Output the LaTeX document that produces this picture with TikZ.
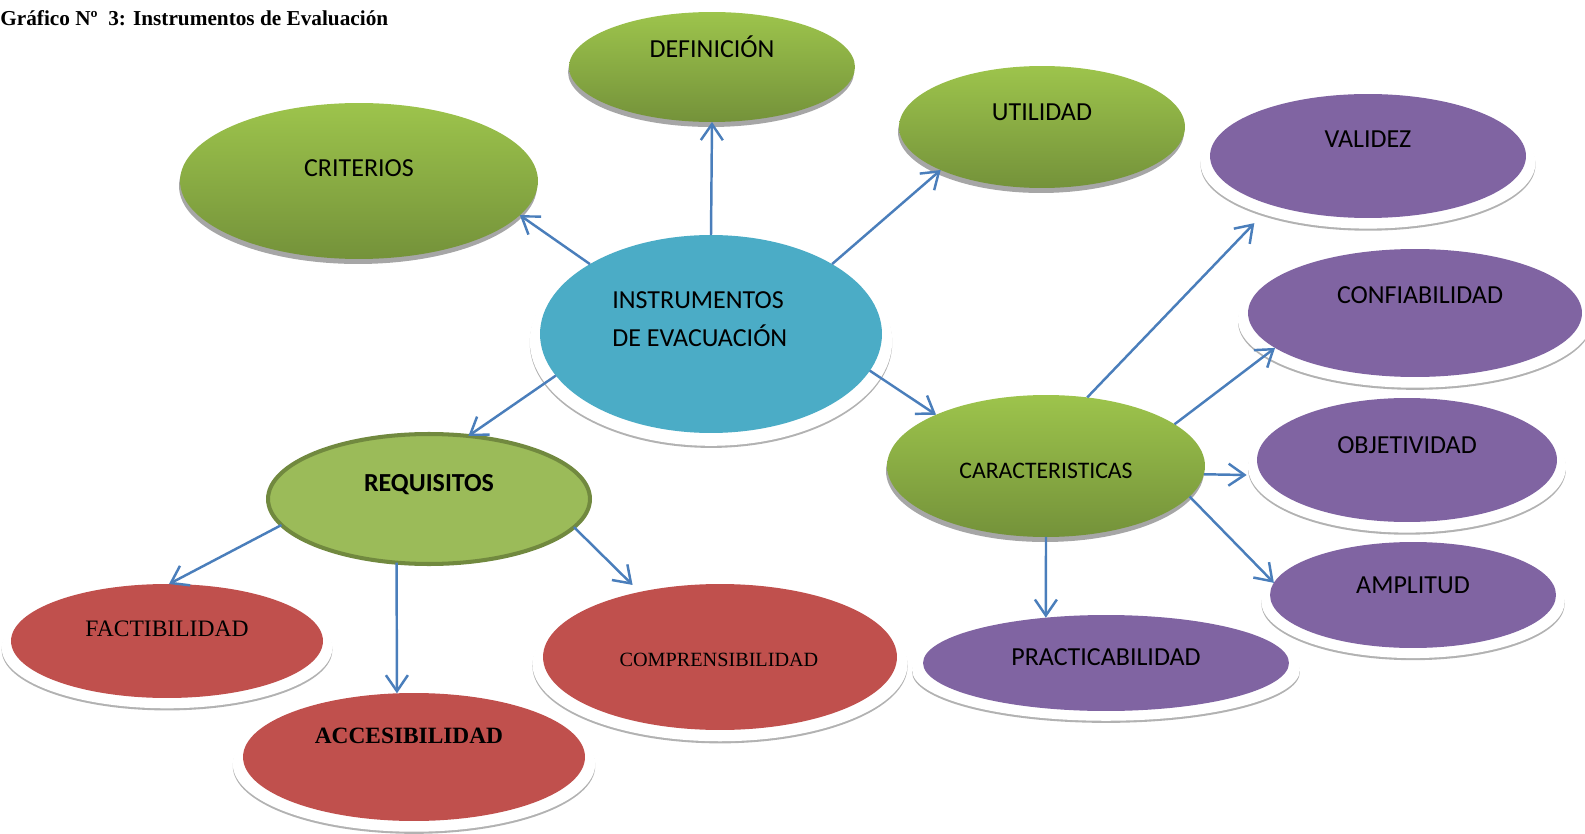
\documentclass[tikz,border=0pt]{standalone}
\usepackage{fontspec}
\setmainfont{Carlito}
\newfontfamily\timesfont{Liberation Serif}
\usetikzlibrary{shapes.geometric,shadows,arrows.meta}

\definecolor{greenTop}{RGB}{157,196,76}
\definecolor{greenBot}{RGB}{116,146,58}
\definecolor{reqFill}{RGB}{155,187,89}
\definecolor{reqLine}{RGB}{113,137,63}
\definecolor{blueAcc}{RGB}{75,172,198}
\definecolor{redAcc}{RGB}{192,80,77}
\definecolor{purpleAcc}{RGB}{128,100,162}
\definecolor{linkBlue}{RGB}{74,126,187}

\begin{document}
\begin{tikzpicture}[x=0.02cm, y=-0.02cm,
   bubble/.style={ellipse, inner sep=0pt, outer sep=0pt},
   greenbub/.style={bubble, top color=greenTop, bottom color=greenBot,
      general shadow={fill=gray!70, shadow xshift=-0.02cm, shadow yshift=-0.1cm}},
   rim/.style={
      general shadow={fill=gray!60, shadow scale=1.06, shadow yshift=-0.17cm},
      general shadow={fill=white, shadow scale=1.06, shadow yshift=-0.13cm}},
   bluebub/.style={bubble, rim, fill=blueAcc},
   redbub/.style={bubble, rim, fill=redAcc},
   purplebub/.style={bubble, rim, fill=purpleAcc},
   reqbub/.style={bubble, fill=reqFill, draw=reqLine, line width=2.3pt},
   lbl/.style={inner sep=0pt, text height=9.5pt, text depth=0pt,
      font=\fontsize{14.8}{17}\selectfont},
   serlbl/.style={inner sep=0pt, text height=8.9pt, text depth=0pt,
      font=\timesfont\fontsize{13.4}{16}\selectfont},
   link/.style={draw=linkBlue, line width=1.4pt,
      -{Straight Barb[length=3.2mm, width=4.4mm]}}]

\useasboundingbox (0,0) rectangle (1585,834);

\node[anchor=west, inner sep=0pt, font=\timesfont\bfseries\fontsize{12.1}{14}\selectfont]
   (title) at (0,18) {Gráfico Nº~~3: Instrumentos de Evaluación};

% bubbles
\node[greenbub, minimum width=5.72cm, minimum height=2.2cm] (def) at (712,67) {};
\node[greenbub, minimum width=7.16cm, minimum height=3.12cm] (crit) at (359,181) {};
\node[greenbub, minimum width=5.72cm, minimum height=2.44cm] (util) at (1042,127) {};
\node[bluebub, minimum width=6.84cm, minimum height=3.96cm] (inst) at (711,334) {};
\node[reqbub, minimum width=6.44cm, minimum height=2.6cm] (req) at (429,499) {};
\node[greenbub, minimum width=6.36cm, minimum height=2.84cm] (car) at (1046,466) {};

\node[redbub, minimum width=6.24cm, minimum height=2.28cm] (fact) at (167,641) {};
\node[redbub, minimum width=7.08cm, minimum height=2.92cm] (comp) at (720,657) {};
\node[redbub, minimum width=6.84cm, minimum height=2.56cm] (acc) at (414,757) {};

\node[purplebub, minimum width=6.32cm, minimum height=2.48cm] (valid) at (1368,156) {};
\node[purplebub, minimum width=6.68cm, minimum height=2.56cm] (conf) at (1415,313) {};
\node[purplebub, minimum width=6.0cm, minimum height=2.48cm] (obj) at (1407,460) {};
\node[purplebub, minimum width=5.72cm, minimum height=2.12cm] (ampl) at (1413,595) {};
\node[purplebub, minimum width=7.32cm, minimum height=1.92cm] (pract) at (1106,663) {};

% texts
\node[lbl] (defT) at (712,49) {DEFINICIÓN};
\node[lbl] (critT) at (359,168) {CRITERIOS};
\node[lbl] (utilT) at (1042,112) {UTILIDAD};
\node[inner sep=0pt, anchor=west, align=left, font=\fontsize{14.8}{22}\selectfont]
   (instT) at (612,319) {INSTRUMENTOS\\DE EVACUACIÓN};
\node[lbl, font=\bfseries\fontsize{14.8}{17}\selectfont] (reqT) at (429,483) {REQUISITOS};
\node[lbl, font=\fontsize{13.5}{16}\selectfont] (carT) at (1046,470) {CARACTERISTICAS};
\node[serlbl] (factT) at (167,629) {FACTIBILIDAD};
\node[serlbl, font=\timesfont\fontsize{11.5}{14}\selectfont] (compT) at (719,659) {COMPRENSIBILIDAD};
\node[serlbl, font=\timesfont\bfseries\fontsize{13.3}{16}\selectfont] (accT) at (409,736) {ACCESIBILIDAD};
\node[lbl] (validT) at (1368,139) {VALIDEZ};
\node[lbl] (confT) at (1420,295) {CONFIABILIDAD};
\node[lbl] (objT) at (1407,445) {OBJETIVIDAD};
\node[lbl] (amplT) at (1413,585) {AMPLITUD};
\node[lbl] (practT) at (1106,657) {PRACTICABILIDAD};

% arrows
\draw[link] (inst.150) -- (crit.348);
\draw[link] (inst.90) -- (def.270);
\draw[link] (inst.30) -- (util.203);
\draw[link] (inst.195) -- (req.58);
\draw[link] (inst.347) -- (car.155);
\draw[link] (req.190) -- (fact.88);
\draw[link] (req.243) -- (acc.105);
\draw[link, shorten >=0.2cm] (req.349) -- (comp.141);
\draw[link, shorten >=0.5cm] (car.59) -- (valid.207);
\draw[link] (car.18) -- (conf.194);
\draw[link, shorten >=0.3cm] (car.357) -- (obj.186);
\draw[link] (car.348) -- (ampl.175);
\draw[link] (car.270) -- (pract.143);

\end{tikzpicture}
\end{document}
